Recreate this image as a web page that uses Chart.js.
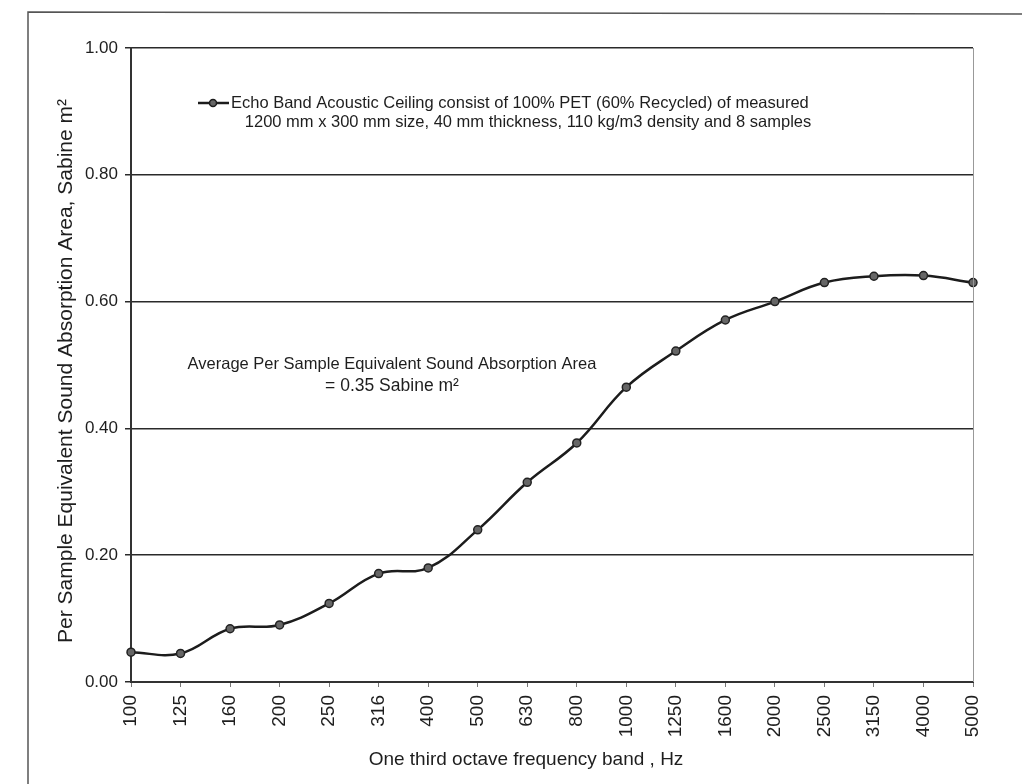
<!DOCTYPE html>
<html>
<head>
<meta charset="utf-8">
<script src="https://cdn.jsdelivr.net/npm/chart.js@4/dist/chart.umd.min.js"></script>
<style>
  html, body { margin: 0; padding: 0; background: #fff; }
  canvas { display: block; }
</style>
</head>
<body>
<canvas id="absorptionChart" width="1022" height="784"></canvas>
<script>
// one third octave bands and measured absorption per sample (Sabine m2)
const frequencyBands = ['100', '125', '160', '200', '250', '316', '400', '500', '630',
    '800', '1000', '1250', '1600', '2000', '2500', '3150', '4000', '5000'];
const absorptionArea = [0.047, 0.045, 0.084, 0.090, 0.124, 0.171, 0.180, 0.240, 0.315,
    0.377, 0.465, 0.522, 0.571, 0.600, 0.630, 0.640, 0.641, 0.630];

const legendLines = [
    'Echo Band Acoustic Ceiling consist of 100% PET (60% Recycled) of measured',
    '1200 mm x 300 mm size, 40 mm thickness, 110 kg/m3 density and 8 samples'
];
const noteLines = [
    'Average Per Sample Equivalent Sound Absorption Area',
    '= 0.35 Sabine m\u00B2'
];
const xTitle = 'One third octave frequency band , Hz';
const yTitle = 'Per Sample Equivalent Sound Absorption Area, Sabine m\u00B2';

const FONT = '"Liberation Sans", Arial, sans-serif';
const INK = '#1e1e1e';

// frame, legend box, note and axis titles drawn on top of the chart
const decorations = {
    id: 'decorations',
    afterDraw(chart) {
        const { ctx, chartArea } = chart;
        ctx.save();

        // outer frame of the scanned figure
        ctx.strokeStyle = '#555';
        ctx.lineWidth = 1.5;
        ctx.beginPath();
        ctx.moveTo(28, 790);
        ctx.lineTo(28, 12);
        ctx.lineTo(1030, 14);
        ctx.stroke();

        // right edge of plot area
        ctx.strokeStyle = '#999';
        ctx.lineWidth = 1;
        ctx.beginPath();
        ctx.moveTo(chartArea.right + 0.5, chartArea.top);
        ctx.lineTo(chartArea.right + 0.5, chartArea.bottom);
        ctx.stroke();

        // legend sample
        ctx.strokeStyle = '#1c1c1c';
        ctx.lineWidth = 2.5;
        ctx.beginPath();
        ctx.moveTo(198, 103);
        ctx.lineTo(229, 103);
        ctx.stroke();
        ctx.fillStyle = '#666';
        ctx.lineWidth = 1.5;
        ctx.beginPath();
        ctx.arc(213, 103, 3.5, 0, Math.PI * 2);
        ctx.fill();
        ctx.stroke();

        ctx.fillStyle = INK;
        ctx.textBaseline = 'middle';
        ctx.font = '16.5px ' + FONT;
        ctx.textAlign = 'left';
        ctx.fillText(legendLines[0], 231, 103);
        ctx.textAlign = 'center';
        ctx.fillText(legendLines[1], 528, 122);

        // average note
        ctx.font = '16.5px ' + FONT;
        ctx.fillText(noteLines[0], 392, 364);
        ctx.font = '17.5px ' + FONT;
        ctx.fillText(noteLines[1], 392, 386);

        // axis titles
        ctx.font = '19px ' + FONT;
        ctx.fillText(xTitle, 526, 760);

        ctx.translate(66, 371);
        ctx.rotate(-Math.PI / 2);
        ctx.font = '21px ' + FONT;
        ctx.fillText(yTitle, 0, 0);

        ctx.restore();
    }
};

new Chart(document.getElementById('absorptionChart'), {
    type: 'line',
    data: {
        labels: frequencyBands,
        datasets: [{
            data: absorptionArea,
            borderColor: '#1c1c1c',
            borderWidth: 2.5,
            tension: 0.4,
            pointRadius: 4,
            pointBackgroundColor: '#666',
            pointBorderColor: '#222',
            pointBorderWidth: 1.5,
            fill: false
        }]
    },
    options: {
        responsive: false,
        animation: false,
        layout: { padding: { top: 48, right: 49, left: 0, bottom: 0 } },
        plugins: {
            legend: { display: false },
            tooltip: { enabled: false }
        },
        scales: {
            x: {
                offset: false,
                grid: {
                    display: true,
                    drawOnChartArea: false,
                    drawTicks: true,
                    tickLength: 5,
                    color: '#777'
                },
                border: { display: true, color: '#333', width: 2 },
                ticks: {
                    color: INK,
                    font: { family: FONT, size: 19 },
                    minRotation: 90,
                    maxRotation: 90,
                    padding: 8,
                    autoSkip: false
                },
                afterFit(scale) { scale.height = 102; }
            },
            y: {
                min: 0,
                max: 1,
                grid: {
                    color: '#2a2a2a',
                    lineWidth: 1.5,
                    tickLength: 6
                },
                border: { display: true, color: '#333', width: 2 },
                ticks: {
                    stepSize: 0.2,
                    color: INK,
                    font: { family: FONT, size: 17 },
                    padding: 7,
                    callback: (v) => v.toFixed(2)
                },
                afterFit(scale) { scale.width = 131; }
            }
        }
    },
    plugins: [decorations]
});
</script>
</body>
</html>
